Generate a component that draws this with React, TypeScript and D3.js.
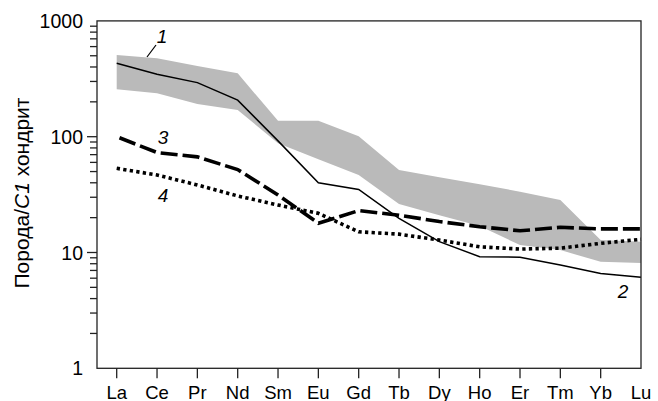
import React from "react";
import * as d3 from "d3";

const categories = ["La", "Ce", "Pr", "Nd", "Sm", "Eu", "Gd", "Tb", "Dy", "Ho", "Er", "Tm", "Yb", "Lu"];
const bandUpper = [507, 476, 408, 353, 137, 137, 101, 51.5, 44.6, 38.8, 33.5, 28.4, 12.8, 12.4];
const bandLower = [257, 237, 192, 170, 88, 64, 46.7, 26.2, 21, 16.9, 11.6, 10.5, 8.3, 8.1];
const series1 = [430, 346, 293, 207, 92, 40, 35, 19.7, 12.4, 9.2, 9.1, 7.8, 6.6, 6.1];
const series3 = [100, 73, 67, 52, 31.4, 17.9, 23, 21, 18.5, 16.7, 15.4, 16.5, 16, 16];
const series4 = [53.3, 46.7, 38.3, 30.8, 25.7, 21.8, 15.1, 14.4, 12.8, 11.2, 10.7, 10.9, 12.0, 13.0];
const majorTicks = [1, 10, 100, 1000];
const yLabel = "Порода/";
const yLabelItalic = "C1";
const yLabelRest = " хондрит";

const W = 658, H = 401;
const left = 97, right = 641, top = 20.9, bottom = 368.3;

export default function App() {
  const x = d3.scalePoint<string>().domain(categories).range([116.7, 641]);
  const y = d3.scaleLog().domain([1, 1000]).range([bottom, top]);
  const idx = categories.map((_, i) => i);

  const area = d3.area<number>()
    .x((i) => x(categories[i])!)
    .y0((i) => y(bandLower[i]))
    .y1((i) => y(bandUpper[i]));
  const line = (vals: number[]) =>
    d3.line<number>().x((i) => x(categories[i])!).y((i) => y(vals[i]))(idx)!;

  const minor: number[] = [];
  [1, 10, 100].forEach((d) => {
    for (let k = 2; k <= 9; k++) minor.push(d * k);
  });

  const font = "Arial, 'Liberation Sans', Helvetica, sans-serif";

  return (
    <svg width={W} height={H} style={{ position: "absolute", left: 0, top: 0, background: "#fff" }} fontFamily={font}>
      <rect x={0} y={0} width={W} height={H} fill="#fff" />
      <path d={area(idx)!} fill="#bababa" stroke="none" />
      <path d={line(series1)} fill="none" stroke="#000" strokeWidth={1.5} />
      <path d={line(series3)} fill="none" stroke="#000" strokeWidth={3.6} strokeDasharray="17 5" strokeDashoffset={19} />
      <path d={line(series4)} fill="none" stroke="#000" strokeWidth={3.6} strokeDasharray="3.3 3.3" />

      {/* frame */}
      <rect x={left} y={top} width={right - left} height={bottom - top} fill="none" stroke="#222" strokeWidth={1.3} />

      {/* y ticks */}
      {majorTicks.filter((t) => t !== 1 && t !== 1000).map((t) => (
        <line key={"M" + t} x1={left - 10} x2={left} y1={y(t)} y2={y(t)} stroke="#222" strokeWidth={1.3} />
      ))}
      {minor.map((t) => (
        <line key={"m" + t} x1={left - 7} x2={left} y1={y(t)} y2={y(t)} stroke="#222" strokeWidth={1.3} />
      ))}
      {majorTicks.map((t) => (
        <text key={"l" + t} x={83} y={y(t)} dy="0.36em" textAnchor="end" fontSize={19.5}>{t}</text>
      ))}

      {/* x ticks */}
      {categories.map((c) => (
        <g key={c}>
          {c !== "Lu" && <line x1={x(c)} x2={x(c)} y1={bottom} y2={bottom + 10} stroke="#222" strokeWidth={1.3} />}
          <text x={x(c)} y={398.5} textAnchor="middle" fontSize={18.5}>{c}</text>
        </g>
      ))}

      {/* y label */}
      <text transform={`translate(29,193) rotate(-90)`} textAnchor="middle" fontSize={21}>
        {yLabel}<tspan fontStyle="italic">{yLabelItalic}</tspan>{yLabelRest}
      </text>

      {/* series labels */}
      <line x1={147} y1={57} x2={156} y2={45} stroke="#000" strokeWidth={1.2} />
      <text x={162} y={43} textAnchor="middle" fontSize={19} fontStyle="italic">1</text>
      <text x={623} y={298} textAnchor="middle" fontSize={19} fontStyle="italic">2</text>
      <text x={163} y={144} textAnchor="middle" fontSize={19} fontStyle="italic">3</text>
      <text x={163} y={202} textAnchor="middle" fontSize={19} fontStyle="italic">4</text>
    </svg>
  );
}
